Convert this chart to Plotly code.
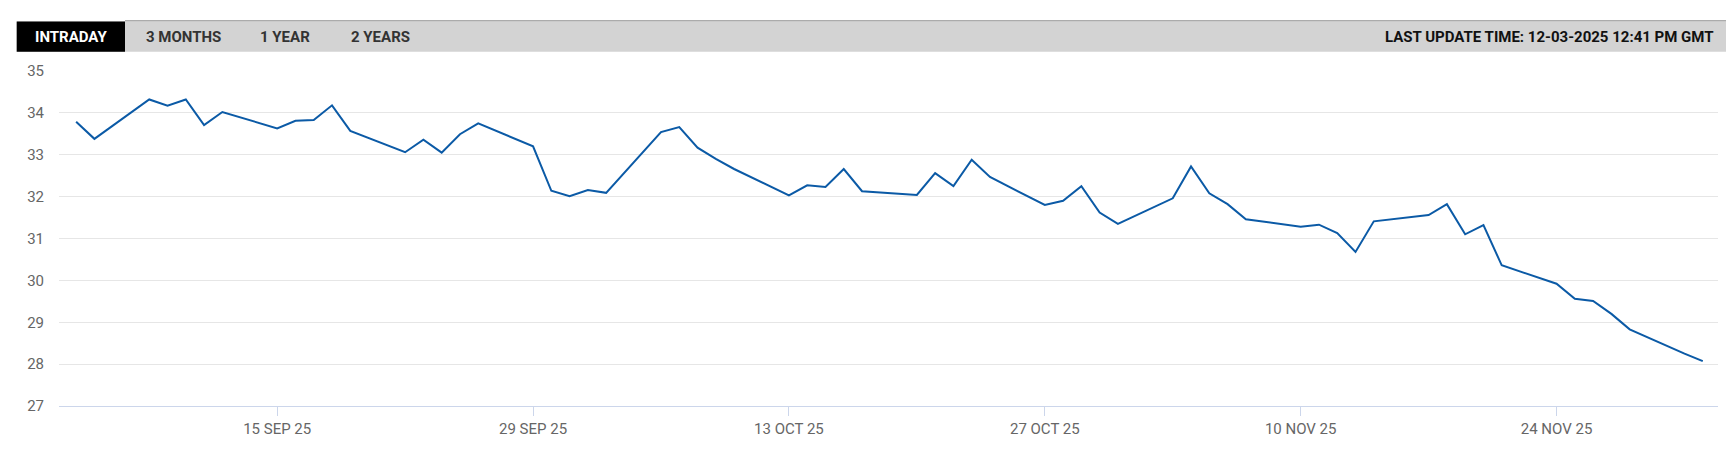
"""
Share price line chart (3-month window) with a tab bar header.
"""

import plotly.graph_objects as go

# ---- data -------------------------------------------------------------
dates = [
    "2025-09-04", "2025-09-05",
    "2025-09-08", "2025-09-09", "2025-09-10", "2025-09-11", "2025-09-12",
    "2025-09-15", "2025-09-16", "2025-09-17", "2025-09-18", "2025-09-19",
    "2025-09-22", "2025-09-23", "2025-09-24", "2025-09-25", "2025-09-26",
    "2025-09-29", "2025-09-30", "2025-10-01", "2025-10-02", "2025-10-03",
    "2025-10-06", "2025-10-07", "2025-10-08", "2025-10-09", "2025-10-10",
    "2025-10-13", "2025-10-14", "2025-10-15", "2025-10-16", "2025-10-17",
    "2025-10-20", "2025-10-21", "2025-10-22", "2025-10-23", "2025-10-24",
    "2025-10-27", "2025-10-28", "2025-10-29", "2025-10-30", "2025-10-31",
    "2025-11-03", "2025-11-04", "2025-11-05", "2025-11-06", "2025-11-07",
    "2025-11-10", "2025-11-11", "2025-11-12", "2025-11-13", "2025-11-14",
    "2025-11-17", "2025-11-18", "2025-11-19", "2025-11-20", "2025-11-21",
    "2025-11-24", "2025-11-25", "2025-11-26", "2025-11-27", "2025-11-28",
    "2025-12-01", "2025-12-02",
]

prices = [
    33.79, 33.38,
    34.32, 34.17, 34.32, 33.71, 34.02,
    33.63, 33.81, 33.83, 34.18, 33.57,
    33.06, 33.36, 33.05, 33.49, 33.75,
    33.20, 32.14, 32.01, 32.16, 32.09,
    33.54, 33.66, 33.17, 32.90, 32.66,
    32.03, 32.27, 32.23, 32.66, 32.13,
    32.04, 32.56, 32.25, 32.88, 32.47,
    31.80, 31.90, 32.25, 31.62, 31.35,
    31.96, 32.72, 32.08, 31.82, 31.46,
    31.28, 31.33, 31.13, 30.68, 31.41,
    31.56, 31.82, 31.10, 31.32, 30.36,
    29.92, 29.56, 29.51, 29.20, 28.83,
    28.25, 28.07,
]

tick_dates = ["2025-09-15", "2025-09-29", "2025-10-13", "2025-10-27", "2025-11-10", "2025-11-24"]
tick_labels = ["15 SEP 25", "29 SEP 25", "13 OCT 25", "27 OCT 25", "10 NOV 25", "24 NOV 25"]

tabs = ["INTRADAY", "3 MONTHS", "1 YEAR", "2 YEARS"]
last_update = "LAST UPDATE TIME: 12-03-2025 12:41 PM GMT"

# ---- page geometry (pixels, measured on the full window) -------------
# the html body keeps its default 8px margin, so the figure is drawn 8px in
BODY = 8
WIN_W, WIN_H = 1734, 450
W, H = WIN_W - BODY, WIN_H - BODY
M = dict(l=59 - BODY, r=16, t=71 - BODY, b=41)
PLOT_W = W - M["l"] - M["r"]
PLOT_H = H - M["t"] - M["b"]


def px_x(px):
    """Window pixel x -> paper fraction."""
    return (px - BODY - M["l"]) / PLOT_W


def px_y(py):
    """Window pixel y (from top) -> paper fraction."""
    return (H - M["b"] - (py - BODY)) / PLOT_H


LINE_COLOR = "#0b5aa6"
AXIS_COLOR = "#ccd6eb"
GRID_COLOR = "#e6e6e6"
LABEL_COLOR = "#666666"
FONT = "Roboto, Arial, sans-serif"

fig = go.Figure(go.Scatter(
    x=dates,
    y=prices,
    mode="lines",
    line=dict(color=LINE_COLOR, width=2),
    hovertemplate="%{x|%d %b %Y}<br>%{y:.2f}<extra></extra>",
))

# tab bar
bar_top, bar_bottom = 21, 51.5
shapes = [
    dict(type="rect", xref="paper", yref="paper", layer="above",
         x0=px_x(16.7), x1=px_x(1728), y0=px_y(bar_bottom), y1=px_y(bar_top),
         fillcolor="#d3d3d3", line=dict(width=0)),
    dict(type="line", xref="paper", yref="paper", layer="above",
         x0=px_x(125), x1=px_x(1728), y0=px_y(20.3), y1=px_y(20.3),
         line=dict(color="#ababab", width=1.5)),
    dict(type="rect", xref="paper", yref="paper", layer="above",
         x0=px_x(16.7), x1=px_x(125), y0=px_y(bar_bottom), y1=px_y(bar_top),
         fillcolor="#000000", line=dict(width=0)),
]

tab_centers = [71, 183, 285, 380]
annotations = []
for i, (name, cx) in enumerate(zip(tabs, tab_centers)):
    annotations.append(dict(
        text=name, xref="paper", yref="paper", x=px_x(cx), y=px_y(36.5),
        xanchor="center", yanchor="middle", showarrow=False,
        font=dict(family=FONT, size=15, weight=700,
                  color="#ffffff" if i == 0 else "#333333"),
    ))
annotations.append(dict(
    text=last_update, xref="paper", yref="paper", x=px_x(1716), y=px_y(36.5),
    xanchor="right", yanchor="middle", showarrow=False,
    font=dict(family=FONT, size=15, weight=700, color="#111111"),
))

fig.update_layout(
    width=W,
    height=H,
    margin=M,
    paper_bgcolor="#ffffff",
    plot_bgcolor="#ffffff",
    showlegend=False,
    shapes=shapes,
    annotations=annotations,
    font=dict(family=FONT, size=15, color=LABEL_COLOR),
    xaxis=dict(
        type="date",
        range=["2025-09-03 01:30", "2025-12-02 20:00"],
        tickvals=tick_dates,
        ticktext=tick_labels,
        ticks="outside",
        ticklen=9,
        tickcolor=AXIS_COLOR,
        tickwidth=1,
        showgrid=False,
        showline=True,
        linecolor=AXIS_COLOR,
        linewidth=1,
        zeroline=False,
        tickfont=dict(size=15, color=LABEL_COLOR),
    ),
    yaxis=dict(
        range=[27, 35],
        dtick=1,
        showgrid=True,
        gridcolor=GRID_COLOR,
        gridwidth=1,
        zeroline=False,
        showline=False,
        ticklabelstandoff=14,
        tickfont=dict(size=15, color=LABEL_COLOR),
    ),
)

fig.write_html("out.html")
